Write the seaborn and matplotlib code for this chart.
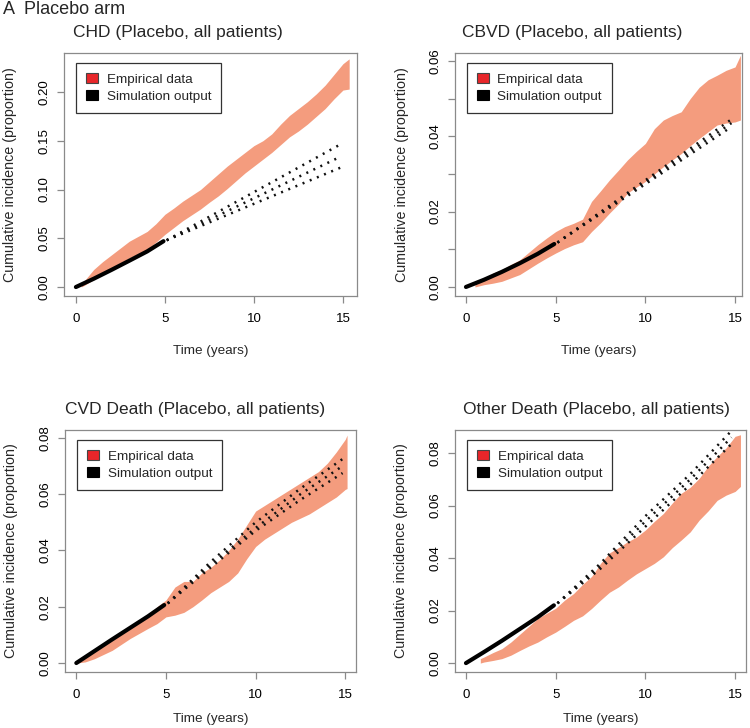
import numpy as np
import pandas as pd
import matplotlib.pyplot as plt
import seaborn as sns
from matplotlib.patches import Patch

# ---- data ----
# CHD
chd_t = [0.3, 0.5, 1, 1.5, 2, 2.5, 3, 3.5, 4, 4.5, 5, 5.5, 6, 6.5, 7, 7.5, 8, 8.5, 9, 9.5,
         10, 10.5, 11, 11.5, 12, 12.5, 13, 13.5, 14, 14.5, 15, 15.35]
chd_hi = [0.002, 0.007, 0.018, 0.026, 0.033, 0.040, 0.047, 0.052, 0.057, 0.065, 0.0746,
          0.081, 0.088, 0.094, 0.100, 0.108, 0.116, 0.124, 0.131, 0.138, 0.145, 0.150,
          0.157, 0.167, 0.176, 0.183, 0.190, 0.198, 0.207, 0.218, 0.229, 0.234]
chd_lo = [0.000, 0.002, 0.0076, 0.013, 0.018, 0.024, 0.030, 0.034, 0.0385, 0.046, 0.054,
          0.061, 0.068, 0.074, 0.080, 0.087, 0.0935, 0.101, 0.109, 0.117, 0.124, 0.131,
          0.138, 0.146, 0.154, 0.160, 0.167, 0.175, 0.183, 0.193, 0.202, 0.203]
chd_sim_t = [0, 1, 2, 3, 4, 4.92]
chd_sim = [0, 0.0085, 0.0176, 0.027, 0.0365, 0.047]
chd_ext_t = [5.1, 14.9]
chd_ext = [[0.048, 0.1467], [0.048, 0.134], [0.048, 0.1227]]

# CBVD
cbvd_t = [0.5, 1, 1.5, 2, 2.5, 3, 3.5, 4, 4.5, 5, 5.5, 6, 6.5, 7, 7.5, 8, 8.5, 9, 9.5, 10,
          10.5, 11, 11.5, 12, 12.5, 13, 13.5, 14, 14.5, 15, 15.3]
cbvd_hi = [0.001, 0.0019, 0.0037, 0.0046, 0.006, 0.0072, 0.0092, 0.0112, 0.013, 0.0147,
           0.016, 0.0169, 0.018, 0.0227, 0.0255, 0.0284, 0.031, 0.0337, 0.036, 0.0381,
           0.042, 0.0443, 0.0455, 0.0465, 0.050, 0.053, 0.055, 0.0562, 0.0575, 0.0584, 0.0615]
cbvd_lo = [0.000, 0.0006, 0.001, 0.0015, 0.0024, 0.0033, 0.0048, 0.0063, 0.0077, 0.009,
           0.0102, 0.0112, 0.012, 0.0147, 0.017, 0.0196, 0.022, 0.0249, 0.0265, 0.028,
           0.030, 0.0319, 0.0337, 0.0354, 0.0375, 0.0394, 0.0412, 0.043, 0.0435, 0.0438, 0.0443]
cbvd_sim_t = [0, 1, 2, 3, 4, 4.92]
cbvd_sim = [0, 0.0019, 0.0040, 0.0063, 0.0088, 0.0114]
cbvd_ext_t = [5.1, 14.8]
cbvd_ext = [[0.0118, 0.0445], [0.0118, 0.0435], [0.0118, 0.0425]]

# CVD death
cvd_t = [0.05, 0.5, 1, 1.5, 2, 2.5, 3, 3.5, 4, 4.5, 5, 5.5, 6, 6.5, 7, 7.5, 8, 8.5, 9, 9.5,
         10, 10.5, 11, 11.5, 12, 12.5, 13, 13.5, 14, 14.5, 15, 15.1]
cvd_hi = [0.001, 0.002, 0.0045, 0.0066, 0.0087, 0.011, 0.0129, 0.015, 0.017, 0.020, 0.0224,
          0.027, 0.029, 0.029, 0.032, 0.034, 0.0367, 0.040, 0.044, 0.049, 0.054, 0.056, 0.058,
          0.060, 0.062, 0.064, 0.066, 0.068, 0.071, 0.075, 0.0795, 0.081]
cvd_lo = [0.000, 0.0004, 0.0015, 0.003, 0.0045, 0.0066, 0.0087, 0.0105, 0.0123, 0.014, 0.0164,
          0.017, 0.018, 0.020, 0.0224, 0.025, 0.027, 0.029, 0.032, 0.037, 0.0414, 0.044, 0.046,
          0.048, 0.050, 0.0515, 0.053, 0.055, 0.057, 0.059, 0.0617, 0.062]
cvd_sim_t = [0, 1, 2, 3, 4, 4.9]
cvd_sim = [0, 0.0042, 0.0084, 0.0125, 0.0166, 0.0206]
cvd_ext_t = [5.1, 7.5, 10, 12.5, 14.85]
cvd_ext = [[0.0212, 0.036, 0.050, 0.062, 0.0725],
           [0.0212, 0.035, 0.048, 0.060, 0.070],
           [0.0212, 0.034, 0.047, 0.058, 0.0675]]

# Other death
oth_t = [0.8, 1, 1.5, 2, 2.5, 3, 3.5, 4, 4.5, 5, 5.5, 6, 6.5, 7, 7.5, 8, 8.5, 9, 9.5, 10,
         10.5, 11, 11.5, 12, 12.5, 13, 13.5, 14, 14.5, 15, 15.3]
oth_hi = [0.0017, 0.0023, 0.004, 0.0055, 0.008, 0.011, 0.014, 0.017, 0.019, 0.0209, 0.024,
          0.0265, 0.030, 0.033, 0.038, 0.042, 0.044, 0.0462, 0.048, 0.0507, 0.054, 0.057,
          0.061, 0.0647, 0.067, 0.0704, 0.075, 0.0787, 0.082, 0.0864, 0.087]
oth_lo = [0.000, 0.0004, 0.001, 0.0017, 0.003, 0.0048, 0.0065, 0.008, 0.010, 0.0118, 0.014,
          0.0163, 0.018, 0.0208, 0.024, 0.027, 0.029, 0.0316, 0.034, 0.036, 0.038, 0.0405,
          0.044, 0.0469, 0.050, 0.0545, 0.058, 0.062, 0.064, 0.0654, 0.0673]
oth_sim_t = [0, 1, 2, 3, 4, 4.9]
oth_sim = [0, 0.0042, 0.0085, 0.013, 0.0175, 0.022]
oth_ext_t = [5.1, 7.5, 10, 12.5, 14.8]
oth_ext = [[0.0228, 0.038, 0.056, 0.072, 0.0885],
           [0.0228, 0.037, 0.054, 0.070, 0.086],
           [0.0228, 0.036, 0.052, 0.068, 0.0835]]

titles = ['CHD (Placebo, all patients)', 'CBVD (Placebo, all patients)',
          'CVD Death (Placebo, all patients)', 'Other Death (Placebo, all patients)']

sns.set_theme(style='white')
plt.rcParams['font.family'] = ['Liberation Sans', 'DejaVu Sans']

band_col = '#F49C7E'
frame_col = '#8a8a8a'

fig = plt.figure(figsize=(7.5, 7.28), dpi=100)

# panel boxes in figure fractions, axis limits, ticks, title x position
panels = [
    dict(pos=[0.0853, 0.5934, 0.3907, 0.3338], xlim=(-0.67, 15.79), ylim=(-0.0092, 0.240),
         yt=[0, 0.05, 0.10, 0.15, 0.20], ylab=['0.00', '0.05', '0.10', '0.15', '0.20'],
         tx=0.389, t=chd_t, hi=chd_hi, lo=chd_lo, st=chd_sim_t, s=chd_sim,
         et=chd_ext_t, e=chd_ext, xlabel_y=-0.20),
    dict(pos=[0.6067, 0.5934, 0.3827, 0.3338], xlim=(-0.61, 15.39), ylim=(-0.0024, 0.0621),
         yt=[0, 0.01, 0.02, 0.03, 0.04, 0.05, 0.06],
         ylab=['0.00', '', '0.02', '', '0.04', '', '0.06'],
         tx=0.409, t=cbvd_t, hi=cbvd_hi, lo=cbvd_lo, st=cbvd_sim_t, s=cbvd_sim,
         et=cbvd_ext_t, e=cbvd_ext, xlabel_y=-0.20),
    dict(pos=[0.0867, 0.0769, 0.388, 0.3324], xlim=(-0.63, 15.6), ylim=(-0.0032, 0.0828),
         yt=[0, 0.02, 0.04, 0.06, 0.08], ylab=['0.00', '0.02', '0.04', '0.06', '0.08'],
         tx=0.448, t=cvd_t, hi=cvd_hi, lo=cvd_lo, st=cvd_sim_t, s=cvd_sim,
         et=cvd_ext_t, e=cvd_ext, xlabel_y=-0.17),
    dict(pos=[0.6067, 0.0769, 0.388, 0.3324], xlim=(-0.61, 15.61), ylim=(-0.0034, 0.0888),
         yt=[0, 0.02, 0.04, 0.06, 0.08], ylab=['0.00', '0.02', '0.04', '0.06', '0.08'],
         tx=0.485, t=oth_t, hi=oth_hi, lo=oth_lo, st=oth_sim_t, s=oth_sim,
         et=oth_ext_t, e=oth_ext, xlabel_y=-0.17),
]

for title, p in zip(titles, panels):
    ax = fig.add_axes(p['pos'])
    ax.fill_between(p['t'], p['lo'], p['hi'], color=band_col, linewidth=0)
    sim = pd.DataFrame({'time': p['st'], 'inc': p['s']})
    sns.lineplot(data=sim, x='time', y='inc', ax=ax, color='black', linewidth=3,
                 solid_capstyle='round')
    for ext in p['e']:
        sns.lineplot(x=p['et'], y=ext, ax=ax, color='#111111', linewidth=1.8,
                     linestyle=(0, (0.8, 2.3)))
    ax.set_xlim(p['xlim'])
    ax.set_ylim(p['ylim'])
    ax.set_xticks([0, 5, 10, 15])
    ax.set_xticklabels(['0', '5', '10', '15'])
    ax.set_yticks(p['yt'])
    ax.set_yticklabels(p['ylab'], rotation=90, va='center')
    ax.tick_params(axis='both', direction='out', length=5, width=0.9, color=frame_col,
                   labelsize=9.5, labelcolor='black')
    ax.tick_params(axis='x', pad=7, bottom=True)
    ax.tick_params(axis='y', pad=5, left=True)
    for sp in ax.spines.values():
        sp.set_color(frame_col)
        sp.set_linewidth(0.9)
    ax.set_xlabel('Time (years)', fontsize=9.7)
    ax.set_ylabel('Cumulative incidence (proportion)', fontsize=10.3)
    ax.xaxis.set_label_coords(0.5, p['xlabel_y'])
    ax.yaxis.set_label_coords(-0.16, 0.5)
    ax.text(p['tx'], 1.085, title, transform=ax.transAxes, ha='center', va='center',
            fontsize=12.5)
    handles = [Patch(facecolor='#E8262A', edgecolor='#444444', linewidth=0.8),
               Patch(facecolor='black', edgecolor='black', linewidth=0.8)]
    leg = ax.legend(handles, ['Empirical data', 'Simulation output'], loc='upper left',
                    bbox_to_anchor=(0.04, 0.96), borderaxespad=0, fancybox=False,
                    framealpha=1, edgecolor='#333333', fontsize=9.7, handlelength=0.9,
                    handleheight=0.8, handletextpad=0.65, labelspacing=0.3,
                    borderpad=0.75)
    leg.get_frame().set_linewidth(0.9)

fig.text(0.004, 1 - 10 / 728, 'A  Placebo arm', ha='left', va='center', fontsize=13)

fig.savefig('out.png', dpi=100)
